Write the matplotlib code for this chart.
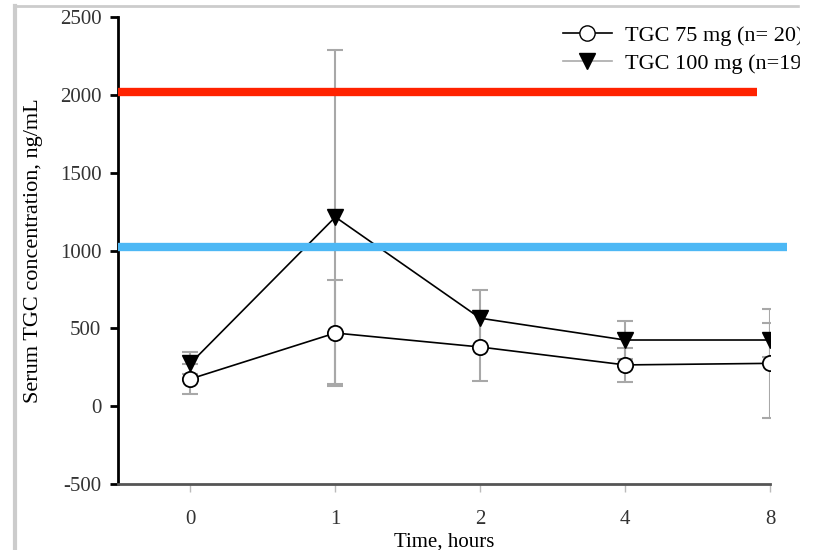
import numpy as np
import matplotlib
matplotlib.use("Agg")
import matplotlib.pyplot as plt
from matplotlib.lines import Line2D
from matplotlib.patches import Rectangle

plt.rcParams['font.family'] = ['Liberation Serif', 'DejaVu Serif']
plt.rcParams['axes.unicode_minus'] = False

# datos
time_labels = ['0', '1', '2', '4', '8']
tgc75_mean = [175, 470, 380, 265, 275]
tgc75_err = [95, 340, 220, 110, 350]
tgc100_mean = [275, 1215, 565, 425, 425]
tgc100_err = [70, 1070, 180, 125, 108]
red_level = 2015
blue_level = 1020

fig = plt.figure(figsize=(8.13, 5.5), dpi=100)
ax = fig.add_axes([118/813, 1-484/550, 652/813, 467/550])

x = np.arange(len(time_labels))

ax.errorbar(x, tgc75_mean, yerr=tgc75_err, fmt='none', ecolor='#a8a8a8',
            elinewidth=1.5, capsize=6, capthick=1.5, zorder=2)
ax.errorbar(x, tgc100_mean, yerr=tgc100_err, fmt='none', ecolor='#a8a8a8',
            elinewidth=1.5, capsize=6, capthick=1.5, zorder=2)
ax.plot(x, tgc75_mean, color='black', lw=1.2, marker='o', ms=11,
        mfc='white', mec='black', mew=1.3, zorder=4)
ax.plot(x, tgc100_mean, color='black', lw=1.2, marker='v', ms=12,
        mfc='black', mec='black', zorder=5)

# lineas de referencia
ax.plot([-0.5, 3.91], [red_level, red_level], color='#ff2200', lw=6,
        solid_capstyle='butt', clip_on=False, zorder=6)
ax.plot([-0.5, 4.12], [blue_level, blue_level], color='#4db8f5', lw=6,
        solid_capstyle='butt', clip_on=False, zorder=6)

ax.set_xlim(-0.5, 4)
ax.set_ylim(-500, 2500)
ax.set_xticks(x)
ax.set_xticklabels(time_labels)
ax.set_yticks(np.arange(-500, 2501, 500))

for s in ['top', 'right']:
    ax.spines[s].set_visible(False)
ax.spines['left'].set_linewidth(2)
ax.spines['bottom'].set_linewidth(2)
ax.spines['bottom'].set_color('#555555')

ax.tick_params(axis='y', direction='out', length=6, width=2, labelsize=15,
               labelcolor='#333333', pad=6)
ax.tick_params(axis='x', direction='out', length=6, width=1, color='#bbbbbb',
               labelsize=15, labelcolor='#333333', pad=13)

ax.set_xlabel('Time, hours', fontsize=15, labelpad=2)
ax.set_ylabel('Serum TGC concentration, ng/mL', fontsize=16, labelpad=12)

handles = [
    Line2D([], [], color='black', lw=1.2, marker='o', ms=11, mfc='white', mec='black'),
    Line2D([], [], color='#aaaaaa', lw=1.2, marker='v', ms=12, mfc='black', mec='black'),
]
ax.legend(handles, ['TGC 75 mg (n= 20)', 'TGC 100 mg (n=19)'],
          loc='upper left', bbox_to_anchor=(563/813, 1-25/550),
          bbox_transform=fig.transFigure, frameon=False, fontsize=16,
          handlelength=2.2, handletextpad=0.6, labelspacing=0.35,
          borderaxespad=0, borderpad=0)

# marco gris y recorte a la derecha
fig.add_artist(Line2D([15/813, 800/813], [1-6/550, 1-6/550], color='#cccccc', lw=2))
fig.add_artist(Line2D([15/813, 15/813], [0, 1-6/550], color='#cccccc', lw=3))
fig.add_artist(Rectangle((800/813, 0), 13/813, 1, color='white', zorder=20))

fig.savefig('out.png', dpi=100)
